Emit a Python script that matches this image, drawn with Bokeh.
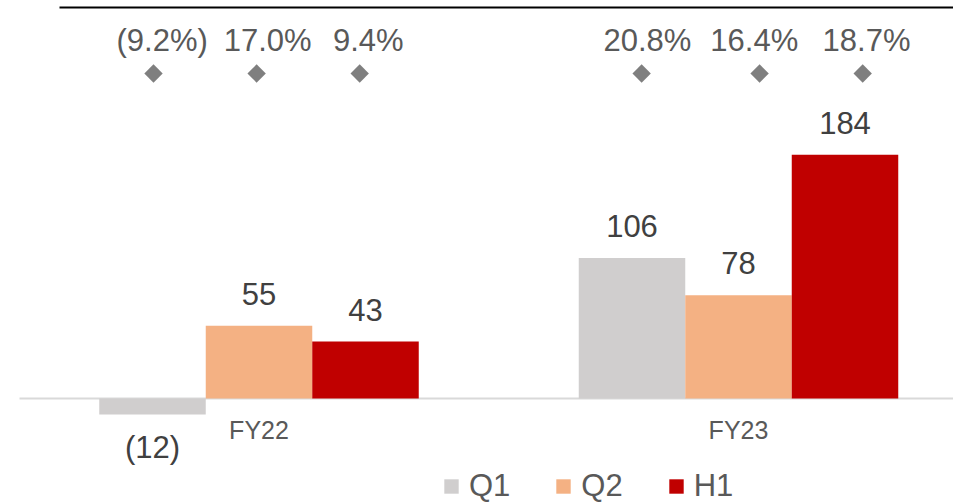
from bokeh.plotting import figure
from bokeh.models import Range1d, ColumnDataSource, Legend, LegendItem
from bokeh.core.properties import value
from bokeh.embed import file_html
from bokeh.resources import INLINE

# ---------------- data ----------------
years = ["FY22", "FY23"]
series = ["Q1", "Q2", "H1"]
q1_values = [-12, 106]
q2_values = [55, 78]
h1_values = [43, 184]
q1_margin = [-9.2, 20.8]
q2_margin = [17.0, 16.4]
h1_margin = [9.4, 18.7]

# ---------------- layout / style ----------------
W, H = 953, 503
PX_PER_CAT = 479.5          # pixels per category
FIRST_CAT_PX = 258.5        # pixel position of first category centre
PX_PER_UNIT = 1.325         # pixels per value unit
ZERO_PX = 398               # pixel row of value 0 (from top)
BAR_W = 106.5 / PX_PER_CAT
BAR_OFFS = [-BAR_W, 0.0, BAR_W]
MARKER_OFFS = [[-0.220, -0.005, 0.210], [-0.202, 0.044, 0.259]]
MARGIN_LABEL_OFFS = [[-0.202, 0.018, 0.228], [-0.190, 0.033, 0.267]]
COLORS = ["#d0cece", "#f4b183", "#c00000"]
FONT = "Liberation Sans"

x_start = -FIRST_CAT_PX / PX_PER_CAT
x_end = (W - FIRST_CAT_PX) / PX_PER_CAT
y_start = -(H - ZERO_PX) / PX_PER_UNIT
y_end = ZERO_PX / PX_PER_UNIT

p = figure(width=W, height=H, x_range=Range1d(x_start, x_end), y_range=Range1d(y_start, y_end),
           output_backend="svg", toolbar_location=None, min_border=0,
           x_axis_location=None, y_axis_location=None)
p.grid.visible = False
p.outline_line_color = None
p.background_fill_color = "white"

# top rule and zero baseline
top_rule_y = y_end - 7 / PX_PER_UNIT
p.segment(x0=[(59 - FIRST_CAT_PX) / PX_PER_CAT], x1=[x_end + 0.1],
          y0=[top_rule_y], y1=[top_rule_y], line_color="black", line_width=2)
p.segment(x0=[(19 - FIRST_CAT_PX) / PX_PER_CAT], x1=[x_end + 0.1], y0=[0], y1=[0],
          line_color="#d9d9d9", line_width=2)

all_values = [q1_values, q2_values, h1_values]
all_margins = [q1_margin, q2_margin, h1_margin]

def fmt_val(v):
    return f"({abs(v):.0f})" if v < 0 else f"{v:.0f}"

def fmt_pct(v):
    return f"({abs(v):.1f}%)" if v < 0 else f"{v:.1f}%"

renderers = []
for si, name in enumerate(series):
    vals = all_values[si]
    xs = [i + BAR_OFFS[si] for i in range(len(years))]
    src = ColumnDataSource(dict(
        x=xs, top=vals,
        label=[fmt_val(v) for v in vals],
        yoff=[-32 if v >= 0 else 33 for v in vals],
    ))
    r = p.vbar(x="x", top="top", bottom=0, width=BAR_W, source=src,
               fill_color=COLORS[si], line_color=None)
    renderers.append(r)
    p.text(x="x", y="top", text="label", source=src, y_offset="yoff",
           text_align="center", text_baseline="alphabetic",
           text_font=value(FONT), text_font_size="31px", text_color="#404040")

# margin markers and labels
marker_y = y_end - 73 / PX_PER_UNIT
label_y = y_end - 40 / PX_PER_UNIT
for si, name in enumerate(series):
    mx = [i + MARKER_OFFS[i][si] for i in range(len(years))]
    lx = [i + MARGIN_LABEL_OFFS[i][si] for i in range(len(years))]
    p.scatter(x=mx, y=[marker_y] * len(years), marker="square", size=13, angle=0.785398,
              fill_color="#7f7f7f", line_color=None)
    p.text(x=lx, y=[label_y] * len(years), text=[fmt_pct(v) for v in all_margins[si]],
           text_align="center", text_baseline="alphabetic",
           text_font=value(FONT), text_font_size="31px", text_color="#595959")

# category labels
p.text(x=list(range(len(years))), y=[0] * len(years), text=years, y_offset=31,
       text_align="center", text_baseline="alphabetic",
       text_font=value(FONT), text_font_size="25px", text_color="#595959")

legend = Legend(items=[LegendItem(label=s, renderers=[renderers[i]]) for i, s in enumerate(series)],
                orientation="horizontal", location=(442, -1),
                glyph_width=18, glyph_height=18, label_standoff=9, spacing=44,
                label_text_font=FONT, label_text_font_size="31px", label_text_color="#595959",
                padding=0, margin=0, border_line_alpha=0, background_fill_alpha=0)
p.add_layout(legend)

open("out.html", "w").write(file_html(p, INLINE))
